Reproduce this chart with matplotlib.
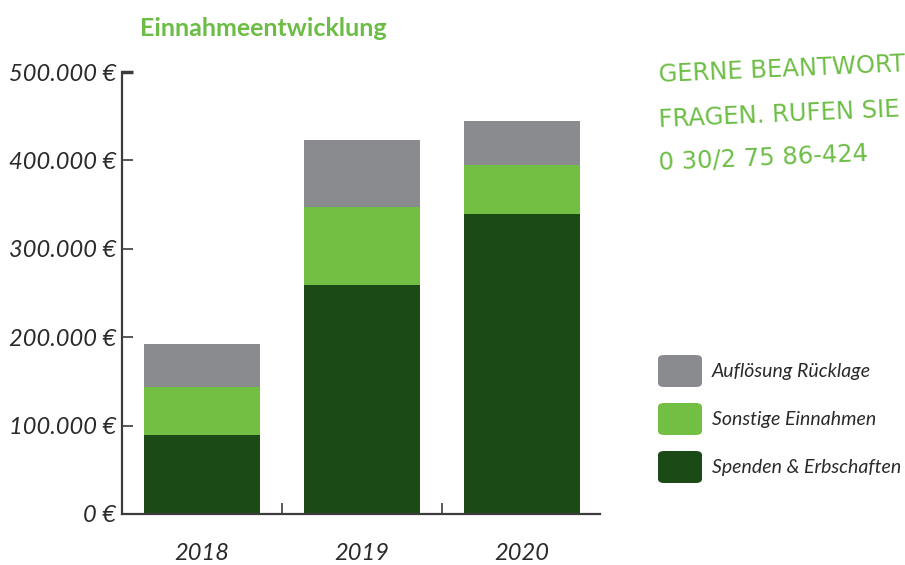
import numpy as np
import matplotlib.pyplot as plt
from matplotlib import font_manager
from matplotlib.patches import FancyBboxPatch

years = ['2018', '2019', '2020']
series_names = ['Spenden & Erbschaften', 'Sonstige Einnahmen', 'Auflösung Rücklage']
spenden = [89000, 259000, 339000]
sonstige = [54500, 88000, 56000]
aufloesung = [48500, 76000, 50000]
series_values = [spenden, sonstige, aufloesung]
colors = ['#1c4a17', '#72bf44', '#8a8b8f']
y_ticks = [0, 100000, 200000, 300000, 400000, 500000]
y_tick_labels = ['0 €', '100.000 €', '200.000 €', '300.000 €', '400.000 €', '500.000 €']

plt.rcParams['font.family'] = ['Lato', 'DejaVu Sans']
axis_color = '#3c3c3c'
text_color = '#2a2a2a'
green = '#6cbd45'

# narrow face for the handwritten-looking note, if there is one
names = {f.name for f in font_manager.fontManager.ttflist}
if 'Liberation Sans Narrow' in names:
    note_font, note_size = 'Liberation Sans Narrow', 21
else:
    note_font, note_size = 'DejaVu Sans', 17.5

fig = plt.figure(figsize=(9.05, 5.65), dpi=100)
ax = fig.add_axes([122/905, 51/565, 478/905, 442/565])

# stacked bars
x = np.arange(len(years))
bottom = np.zeros(len(years))
for name, vals, c in zip(series_names, series_values, colors):
    ax.bar(x, vals, width=0.725, bottom=bottom, color=c, label=name, zorder=2)
    bottom += np.array(vals)

ax.set_xlim(-0.5, 2.49)
ax.set_ylim(0, 500000)

for side in ['top', 'right']:
    ax.spines[side].set_visible(False)
for side in ['left', 'bottom']:
    ax.spines[side].set_color(axis_color)
    ax.spines[side].set_linewidth(1.6)

ax.set_yticks(y_ticks)
ax.set_yticklabels(y_tick_labels, fontsize=17, style='italic', color=text_color)
ax.tick_params(axis='y', direction='in', length=8, width=1.2, color=axis_color, pad=4)
ax.get_yticklines()[-2].set_markeredgewidth(2.5)

ax.set_xticks(x)
ax.set_xticklabels(years, fontsize=17, style='italic', color=text_color)
ax.tick_params(axis='x', which='major', length=0, pad=21)
ax.set_xticks([0.5, 1.5], minor=True)
ax.tick_params(axis='x', which='minor', direction='in', length=8, width=1.2, color=axis_color)

# title
fig.text(140/905, 1 - 28/565, 'Einnahmeentwicklung', fontsize=18, fontweight='bold',
         color=green, va='center', ha='left')

# handwritten note (runs off the right edge, as in the original)
note = ['GERNE BEANTWORTEN WIR IHRE', 'FRAGEN. RUFEN SIE UNS AN:', '0 30/2 75 86-424']
for i, line in enumerate(note):
    fig.text(658/905, 1 - (66 + i*46)/565, line, fontsize=note_size, color=green,
             va='center', ha='left', rotation=2.5, family=note_font)

# legend with rounded swatches
for i, (name, c) in enumerate(reversed(list(zip(series_names, colors)))):
    yc = 371 + i*48
    box = FancyBboxPatch((658/905, 1 - (yc + 16)/565), 44/905, 32/565,
                         boxstyle='round,pad=0,rounding_size=0.007',
                         transform=fig.transFigure, facecolor=c, edgecolor='none')
    fig.patches.append(box)
    fig.text(712/905, 1 - yc/565, name, fontsize=14, style='italic',
             color=text_color, va='center', ha='left')

fig.savefig('out.png', dpi=100)
